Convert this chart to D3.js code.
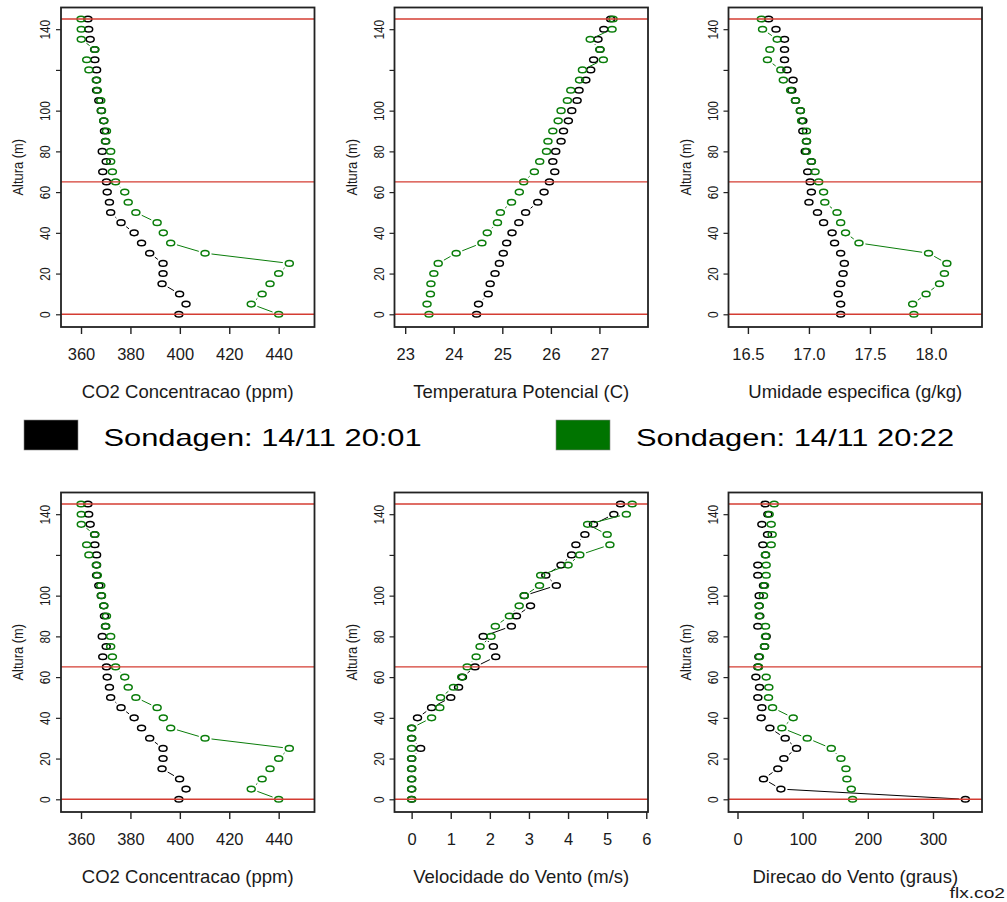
<!DOCTYPE html>
<html>
<head>
<meta charset="utf-8">
<script src="https://cdn.jsdelivr.net/npm/d3@7"></script>
<style>
  body { margin: 0; background: #fff; }
  svg { display: block; }
  text { font-family: "Liberation Sans", Arial, sans-serif; fill: #1a1a1a; }
</style>
</head>
<body>
<svg id="chart" width="1007" height="902"></svg>
<script>
// Profile heights (m)
const heights = [0, 5, 10, 15, 20, 25, 30, 35, 40, 45, 50, 55, 60, 65, 70, 75,
                 80, 85, 90, 95, 100, 105, 110, 115, 120, 125, 130, 135, 140, 145];

// Sounding 1 (20:01) and sounding 2 (20:22)
const co2A  = [399.6, 402.5, 399.9, 392.8, 393.2, 393.2, 387.8, 384.5, 381.5, 376.2,
               372.0, 371.5, 370.6, 370.3, 368.8, 370.2, 368.6, 369.9, 369.5, 369.2,
               368.2, 367.2, 366.3, 366.3, 366.3, 365.6, 365.5, 363.7, 363.1, 362.8];
const co2B  = [440.0, 428.9, 433.3, 436.5, 440.0, 444.3, 410.2, 396.3, 393.3, 390.8,
               382.2, 379.1, 377.7, 374.0, 372.7, 372.0, 372.0, 370.0, 370.3, 369.2,
               368.3, 368.0, 366.6, 366.2, 363.2, 362.3, 365.6, 360.1, 360.1, 360.0];
const tempA = [24.47, 24.51, 24.71, 24.75, 24.85, 24.94, 25.02, 25.09, 25.20, 25.34,
               25.48, 25.73, 25.86, 25.97, 26.08, 26.04, 26.10, 26.21, 26.26, 26.36,
               26.43, 26.54, 26.58, 26.72, 26.82, 26.88, 27.01, 26.97, 27.09, 27.23];
const tempB = [23.49, 23.45, 23.52, 23.53, 23.59, 23.68, 24.05, 24.58, 24.69, 24.90,
               24.96, 25.19, 25.35, 25.44, 25.66, 25.77, 25.91, 25.94, 26.04, 26.15,
               26.21, 26.34, 26.41, 26.59, 26.65, 27.08, 27.01, 26.81, 27.26, 27.28];
const qA    = [17.26, 17.26, 17.24, 17.26, 17.28, 17.29, 17.26, 17.21, 17.19, 17.12,
               17.07, 17.00, 17.02, 17.01, 16.99, 17.02, 16.97, 16.98, 16.95, 16.95,
               16.93, 16.89, 16.86, 16.87, 16.82, 16.80, 16.80, 16.80, 16.73, 16.67];
const qB    = [17.86, 17.85, 17.96, 18.07, 18.11, 18.13, 17.98, 17.41, 17.30, 17.26,
               17.23, 17.13, 17.12, 17.08, 17.05, 17.02, 16.98, 16.98, 16.98, 16.94,
               16.93, 16.89, 16.85, 16.79, 16.77, 16.66, 16.68, 16.74, 16.62, 16.61];
const windA = [0.00, 0.00, 0.00, 0.00, 0.00, 0.23, 0.00, 0.00, 0.15, 0.51,
               1.00, 1.20, 1.30, 1.62, 2.15, 2.09, 1.83, 2.55, 2.68, 3.04,
               2.88, 3.70, 3.43, 3.82, 4.09, 4.20, 4.43, 4.65, 5.17, 5.34];
const windB = [0.00, 0.00, 0.00, 0.00, 0.00, 0.00, 0.00, 0.00, 0.51, 0.72,
               0.74, 1.07, 1.28, 1.42, 1.65, 1.75, 2.03, 2.14, 2.50, 2.75,
               2.88, 3.27, 3.30, 4.00, 4.30, 5.07, 5.00, 4.50, 5.49, 5.64];
const dirA  = [349.7, 66.6, 39.9, 61.9, 71.2, 90.6, 73.2, 49.7, 36.3, 37.4,
               31.2, 33.8, 28.2, 31.2, 32.8, 41.5, 44.0, 31.2, 34.3, 33.3,
               33.3, 39.9, 31.2, 31.2, 43.0, 38.9, 46.1, 37.4, 46.6, 42.5];
const dirB  = [176.6, 174.6, 167.9, 166.4, 158.7, 143.9, 107.0, 68.1, 85.5, 53.8,
               47.6, 48.1, 44.0, 32.3, 33.8, 41.5, 43.0, 43.0, 33.3, 33.3,
               39.9, 41.5, 44.0, 44.0, 43.0, 51.7, 53.2, 51.7, 48.6, 56.3];

// Reference levels (m)
const refLevels = [0, 65, 145];

// Axis ticks
const yTicks = [0, 20, 40, 60, 80, 100, 120, 140];
const yTickLabels = ["0", "20", "40", "60", "80", "100", "", "140"];
const co2Ticks = [360, 380, 400, 420, 440];
const tempTicks = [23, 24, 25, 26, 27];
const qTicks = [16.5, 17.0, 17.5, 18.0];
const windTicks = [0, 1, 2, 3, 4, 5, 6];
const dirTicks = [0, 100, 200, 300];

const seriesNames = ["Sondagen: 14/11 20:01", "Sondagen: 14/11 20:22"];
const seriesColors = ["#000000", "#0a7d0a"];
const legendColors = ["#000000", "#007400"];

const panels = [
  { row: 0, col: 0, a: co2A,  b: co2B,  dom: [351.9, 454.5], ticks: co2Ticks,  fmt: d3.format("d"),   title: "CO2 Concentracao (ppm)" },
  { row: 0, col: 1, a: tempA, b: tempB, dom: [22.78, 28.0],  ticks: tempTicks, fmt: d3.format("d"),   title: "Temperatura Potencial (C)" },
  { row: 0, col: 2, a: qA,    b: qB,    dom: [16.341, 18.418], ticks: qTicks,  fmt: d3.format(".1f"), title: "Umidade especifica (g/kg)" },
  { row: 1, col: 0, a: co2A,  b: co2B,  dom: [351.9, 454.5], ticks: co2Ticks,  fmt: d3.format("d"),   title: "CO2 Concentracao (ppm)" },
  { row: 1, col: 1, a: windA, b: windB, dom: [-0.438, 6.044], ticks: windTicks, fmt: d3.format("d"),  title: "Velocidade do Vento (m/s)" },
  { row: 1, col: 2, a: dirA,  b: dirB,  dom: [-13.8, 375.2], ticks: dirTicks,  fmt: d3.format("d"),   title: "Direcao do Vento (graus)" }
];

const svg = d3.select("#chart");
const colLefts = [61, 394.5, 728.5];
const boxW = 253.5;
const rowTops = [7.5, 492.5];
const boxH = 319.5;
const yDomain = [-6.24, 150.65];
const GAP = 6.5; // line gap around each point (type "b")

panels.forEach(p => {
  const x0 = colLefts[p.col], y0 = rowTops[p.row];
  const x = d3.scaleLinear().domain(p.dom).range([x0, x0 + boxW]);
  const y = d3.scaleLinear().domain(yDomain).range([y0 + boxH, y0]);
  const g = svg.append("g");

  // Y axis with rotated labels
  const ya = g.append("g")
    .attr("transform", `translate(${x0},0)`)
    .call(d3.axisLeft(y).tickValues(yTicks).tickFormat((d, i) => yTickLabels[i])
      .tickSizeInner(5).tickSizeOuter(0));
  ya.select(".domain").remove();
  ya.selectAll("line").attr("stroke", "#222").attr("stroke-width", 1.2);
  ya.selectAll("text")
    .attr("x", null).attr("dy", null)
    .attr("text-anchor", "middle")
    .attr("font-size", 14.5)
    .attr("transform", "translate(-11,0) rotate(-90) scale(0.82,1)");

  // X axis
  const xa = g.append("g")
    .attr("transform", `translate(0,${y0 + boxH})`)
    .call(d3.axisBottom(x).tickValues(p.ticks).tickFormat(p.fmt)
      .tickSizeInner(7).tickSizeOuter(0));
  xa.select(".domain").remove();
  xa.selectAll("line").attr("stroke", "#222").attr("stroke-width", 1.4);
  xa.selectAll("text")
    .attr("y", 33).attr("dy", null)
    .attr("font-size", 16.5);

  // Axis titles
  g.append("text")
    .attr("x", x0 + boxW / 2).attr("y", y0 + boxH + 71)
    .attr("text-anchor", "middle").attr("font-size", 18.5)
    .text(p.title);
  g.append("text")
    .attr("text-anchor", "middle").attr("font-size", 14)
    .attr("transform", `translate(${x0 - 38},${y0 + boxH / 2}) rotate(-90) scale(0.92,1)`)
    .text("Altura (m)");

  // Two soundings: points joined by gapped segments
  [p.a, p.b].forEach((vals, si) => {
    const pts = heights.map((h, i) => [x(vals[i]), y(h)]);
    const segs = [];
    for (let i = 0; i < pts.length - 1; i++) {
      const [xa1, ya1] = pts[i], [xb1, yb1] = pts[i + 1];
      const dx = xb1 - xa1, dy = yb1 - ya1, len = Math.hypot(dx, dy);
      if (len > 2 * GAP + 0.5) {
        const ux = dx / len, uy = dy / len;
        segs.push([xa1 + ux * GAP, ya1 + uy * GAP, xb1 - ux * GAP, yb1 - uy * GAP]);
      }
    }
    g.append("g").selectAll("line").data(segs).join("line")
      .attr("x1", d => d[0]).attr("y1", d => d[1])
      .attr("x2", d => d[2]).attr("y2", d => d[3])
      .attr("stroke", seriesColors[si]).attr("stroke-width", 1);
    g.append("g").selectAll("ellipse").data(pts).join("ellipse")
      .attr("cx", d => d[0]).attr("cy", d => d[1])
      .attr("rx", 4.0).attr("ry", 2.8)
      .attr("fill", "none").attr("stroke", seriesColors[si]).attr("stroke-width", 1.5);
  });

  // Reference height lines
  g.append("g").selectAll("line").data(refLevels).join("line")
    .attr("x1", x0).attr("x2", x0 + boxW)
    .attr("y1", d => y(d)).attr("y2", d => y(d))
    .attr("stroke", "#d43c32").attr("stroke-width", 1.4);

  // Plot box
  g.append("rect")
    .attr("x", x0).attr("y", y0).attr("width", boxW).attr("height", boxH)
    .attr("fill", "none").attr("stroke", "#222").attr("stroke-width", 1.8);
});

// Legend
const legendX = [[24, 103.5], [556, 636]];
seriesNames.forEach((name, i) => {
  svg.append("rect")
    .attr("x", legendX[i][0]).attr("y", 420).attr("width", 54).attr("height", 30)
    .attr("fill", legendColors[i]).attr("stroke", "#888").attr("stroke-width", 0.6);
  svg.append("text")
    .attr("transform", `translate(${legendX[i][1]},446) scale(1.34,1)`)
    .attr("font-size", 23)
    .style("fill", "#000")
    .text(name);
});

// Footer tag
svg.append("text")
  .attr("transform", "translate(1005,898) scale(1.37,1)")
  .attr("text-anchor", "end").attr("font-size", 14)
  .text("flx.co2");
</script>
</body>
</html>
